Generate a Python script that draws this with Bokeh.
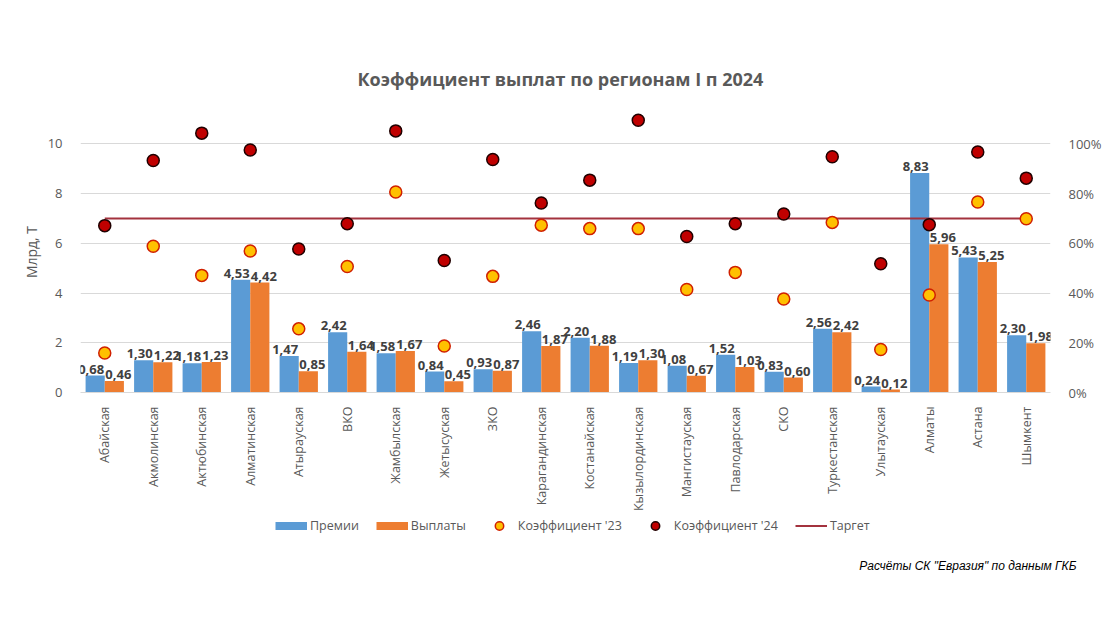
import math
from bokeh.plotting import figure
from bokeh.layouts import column
from bokeh.models import (FactorRange, Range1d, LinearAxis, FixedTicker, NumeralTickFormatter,
                          ColumnDataSource, Legend, LegendItem, Title)
from bokeh.transform import dodge
from bokeh.core.properties import value
from bokeh.embed import file_html
from bokeh.resources import INLINE

regions = ["Абайская", "Акмолинская", "Актюбинская", "Алматинская", "Атырауская", "ВКО",
           "Жамбылская", "Жетысуская", "ЗКО", "Карагандинская", "Костанайская",
           "Кызылординская", "Мангистауская", "Павлодарская", "СКО", "Туркестанская",
           "Улытауская", "Алматы", "Астана", "Шымкент"]
premii = [0.68, 1.30, 1.18, 4.53, 1.47, 2.42, 1.58, 0.84, 0.93, 2.46, 2.20, 1.19, 1.08, 1.52,
          0.83, 2.56, 0.24, 8.83, 5.43, 2.30]
vyplaty = [0.46, 1.22, 1.23, 4.42, 0.85, 1.64, 1.67, 0.45, 0.87, 1.87, 1.88, 1.30, 0.67, 1.03,
           0.60, 2.42, 0.12, 5.96, 5.25, 1.98]
coef23 = [0.159, 0.588, 0.471, 0.569, 0.256, 0.507, 0.806, 0.187, 0.467, 0.673, 0.659, 0.659,
          0.414, 0.483, 0.376, 0.684, 0.173, 0.392, 0.766, 0.699]
coef24 = [0.671, 0.933, 1.043, 0.975, 0.577, 0.679, 1.052, 0.531, 0.937, 0.762, 0.854, 1.095,
          0.627, 0.679, 0.718, 0.948, 0.518, 0.675, 0.967, 0.862]
target = 0.70
y_ticks = [0, 2, 4, 6, 8, 10]
pct_ticks = [0, 0.2, 0.4, 0.6, 0.8, 1.0]


def fmt(v):
    return f"{v:.2f}".replace(".", ",")


src = ColumnDataSource(dict(
    region=regions, premii=premii, vyplaty=vyplaty,
    lp=[fmt(v) for v in premii], lv=[fmt(v) for v in vyplaty],
    k23=coef23, k24=coef24, tgt=[target] * len(regions)))

GRAY = "#595959"
FONT = "Open Sans"
BLUE, ORANGE = "#5B9BD5", "#ED7D31"
S23 = dict(fill_color="#FFC000", line_color="#D02000", line_width=1.5)
S24 = dict(fill_color="#C00000", line_color="#200000", line_width=1.5)
STGT = dict(line_color="#A3323E", line_width=2)

p = figure(width=1104, height=514, x_range=FactorRange(factors=regions),
           y_range=Range1d(0, 11.3), output_backend="svg", toolbar_location=None,
           min_border_left=80, min_border_right=48, min_border_top=111, min_border_bottom=122,
           outline_line_color=None, background_fill_color="white")
p.extra_y_ranges = {"pct": Range1d(0, 1.13)}

# bars
p.vbar(x=dodge("region", -0.1975, range=p.x_range), top="premii", width=0.395, source=src,
       fill_color=BLUE, line_color=None)
p.vbar(x=dodge("region", 0.1975, range=p.x_range), top="vyplaty", width=0.395, source=src,
       fill_color=ORANGE, line_color=None)

# target line
p.line(x="region", y="tgt", y_range_name="pct", source=src, **STGT)

# markers
p.scatter(x="region", y="k23", y_range_name="pct", source=src, size=12, **S23)
p.scatter(x="region", y="k24", y_range_name="pct", source=src, size=12, **S24)

# data labels
for col, lab, off, xo in (("premii", "lp", -0.1975, -4), ("vyplaty", "lv", 0.1975, 4)):
    p.text(x=dodge("region", off, range=p.x_range), y=col, text=lab, source=src,
           text_align="center", text_baseline="bottom", y_offset=-2, x_offset=xo,
           text_font=value(FONT), text_font_style="bold", text_font_size="13px",
           text_color="#404040")

# axes
p.yaxis.ticker = FixedTicker(ticks=y_ticks)
p.ygrid.ticker = FixedTicker(ticks=y_ticks)
p.ygrid.grid_line_color = "#D9D9D9"
p.xgrid.grid_line_color = None
p.yaxis.axis_label = "Млрд, Т"
p.yaxis.axis_label_text_font = FONT
p.yaxis.axis_label_text_font_style = "normal"
p.yaxis.axis_label_text_font_size = "14px"
p.yaxis.axis_label_text_color = GRAY
p.yaxis.axis_label_standoff = 4

ax_r = LinearAxis(y_range_name="pct", ticker=FixedTicker(ticks=pct_ticks),
                  formatter=NumeralTickFormatter(format="0%"))
p.add_layout(ax_r, "right")

for ax in (p.yaxis[0], ax_r):
    ax.axis_line_color = None
    ax.major_tick_line_color = None
    ax.minor_tick_line_color = None
    ax.major_label_text_font = FONT
    ax.major_label_text_font_size = "13px"
    ax.major_label_text_color = GRAY
    ax.major_label_standoff = 12

xa = p.xaxis[0]
xa.major_label_orientation = math.pi / 2
xa.axis_line_color = "#D9D9D9"
xa.major_tick_line_color = None
xa.minor_tick_line_color = None
xa.major_label_text_font = FONT
xa.major_label_text_font_size = "12.5px"
xa.major_label_text_color = GRAY
xa.major_label_standoff = 8

# title
p.title.text = "Коэффициент выплат по регионам I п 2024"
p.title.align = "left"
p.title.offset = 277
p.title.text_font = FONT
p.title.text_font_size = "18px"
p.title.text_font_style = "bold"
p.title.text_color = GRAY
p.title.standoff = 42

# legend / footnote strip
lf = figure(width=1104, height=86, x_range=Range1d(0, 1), y_range=Range1d(0, 1),
            output_backend="svg", toolbar_location=None, x_axis_type=None, y_axis_type=None,
            min_border=0, min_border_bottom=45, outline_line_color=None,
            background_fill_color="white")
lf.grid.visible = False
nan = float("nan")
blank = ColumnDataSource(dict(x=[nan], y=[nan]))
l_p = lf.line(x="x", y="y", source=blank, line_color=BLUE, line_width=8)
l_v = lf.line(x="x", y="y", source=blank, line_color=ORANGE, line_width=8)
l_23 = lf.scatter(x="x", y="y", source=blank, **S23)
l_24 = lf.scatter(x="x", y="y", source=blank, **S24)
l_t = lf.line(x="x", y="y", source=blank, **STGT)

legend = Legend(items=[
    LegendItem(label="Премии", renderers=[l_p]),
    LegendItem(label="Выплаты", renderers=[l_v]),
    LegendItem(label="Коэффициент '23", renderers=[l_23]),
    LegendItem(label="Коэффициент '24", renderers=[l_24]),
    LegendItem(label="Таргет", renderers=[l_t]),
], orientation="horizontal", location=(195, 19), glyph_width=32, glyph_height=21,
    label_standoff=3, spacing=17, padding=0, margin=0, border_line_color=None,
    background_fill_alpha=0, label_text_font=FONT, label_text_font_size="12.5px",
    label_text_color=GRAY)
lf.add_layout(legend)

foot = Title(text='Расчёты СК "Евразия" по данным ГКБ', align="right", offset=-26,
             text_font="Liberation Sans", text_font_style="italic", text_font_size="12px",
             text_color="#000000", standoff=3)
lf.add_layout(foot, "below")

open("out.html", "w").write(file_html(column(p, lf), INLINE))
